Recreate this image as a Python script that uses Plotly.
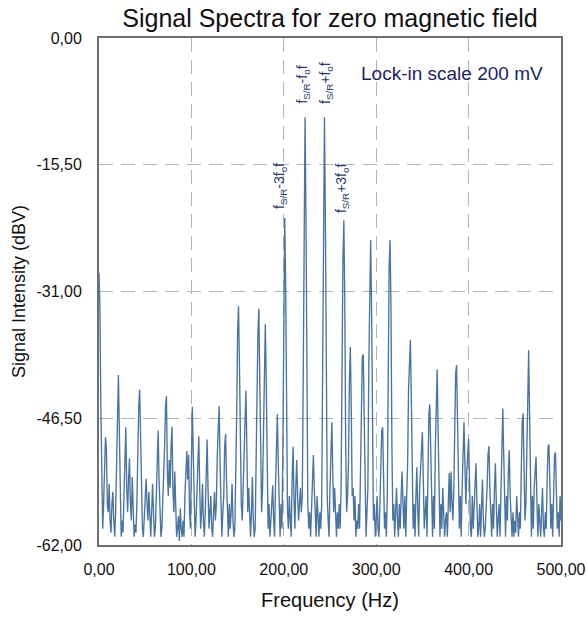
import plotly.graph_objects as go

# Frequency grid (Hz), 1 Hz steps
freq_hz = list(range(0, 501))

# Signal intensity (dBV) at each Hz
level_dbv = [
    -28.7, -33, -45, -57, -60, -57, -52, -48.8, -50, -57,          # 0-9
    -58, -54.5, -59, -60.5, -57, -55.5, -59, -61, -58, -52,        # 10-19
    -45, -41.2, -48, -58, -61, -59, -60.5, -56, -50, -47.6,        # 20-29
    -55, -58, -54, -51.4, -57, -59, -53.7, -58, -61, -59.5,        # 30-39
    -60.5, -57, -50, -45, -43.0, -50, -58, -60, -61, -58.5,        # 40-49
    -56, -53.9, -57, -59, -55.5, -59, -61, -58, -54.5, -58,        # 50-59
    -61, -60, -56, -50, -48, -54, -59, -61, -60, -57,              # 60-69
    -55, -50, -45, -43.8, -53, -56, -51.6, -55, -50, -47.5,        # 70-79
    -55, -58, -53, -59, -61, -60, -58.5, -61.5, -57.5, -60,        # 80-89
    -61, -59, -61, -56, -52, -50.5, -54, -51, -58, -60,            # 90-99
    -52, -45.1, -51, -58, -61, -59, -55, -50, -48.7, -55,          # 100-109
    -60, -58, -54.5, -59, -61, -58, -52, -49.1, -55, -60,          # 110-119
    -58, -56, -60, -61, -58, -55.5, -59, -57, -51, -46,            # 120-129
    -45, -52, -59, -61, -58, -56, -50, -48.4, -54, -59,            # 130-139
    -61, -57, -60, -58, -54.5, -59, -61, -60, -55, -46,            # 140-149
    -36, -32.8, -40, -50, -57, -59, -55, -49, -44, -43.1,          # 150-159
    -50, -58, -55, -60, -61, -58, -53.7, -59, -61, -60,            # 160-169
    -54, -44, -36, -33.1, -42, -54, -58, -55, -47, -38,            # 170-179
    -35, -42, -55, -60, -57, -61, -59, -56, -54.7, -59,            # 180-189
    -61, -55, -48, -46, -52, -59, -61, -57, -60, -50,              # 190-199
    -32, -22, -30, -48, -58, -60, -56, -59, -61, -54,              # 200-209
    -50, -56, -60, -55, -51.6, -56, -59, -57, -55, -58,            # 210-219
    -56, -42, -20, -9.7, -22, -45, -57, -60, -58, -61,             # 220-229
    -57, -53, -51, -55, -59, -61, -56, -59, -61, -58,              # 230-239
    -60, -57, -42, -20, -9.7, -22, -44, -56, -59, -61,             # 240-249
    -55, -49, -47, -53, -58, -55, -59, -61, -58, -60,              # 250-259
    -57, -60, -55, -40, -27, -22.3, -32, -50, -58, -56,            # 260-269
    -52, -42, -37.8, -45, -56, -55, -59, -56, -61, -59,            # 270-279
    -60, -57, -60, -53, -44, -39, -38.7, -47, -58, -61,            # 280-289
    -58, -55, -40, -28, -24.7, -33, -50, -59, -57, -61,            # 290-299
    -59, -56, -60, -61, -57, -52, -48, -47.6, -54, -60,            # 300-309
    -58, -61, -56, -40, -28, -24.7, -33, -50, -59, -57,            # 310-319
    -61, -58, -55, -59, -61, -57, -60, -56, -53, -57,              # 320-329
    -60, -56, -61, -56, -52, -43, -38, -36.9, -44, -55,            # 330-339
    -60, -57, -61, -56, -52.5, -58, -61, -55, -52, -49,            # 340-349
    -48.2, -54, -60, -58, -56, -61, -52, -46, -44.8, -51,          # 350-359
    -59, -61, -56, -60, -50, -42, -40.5, -48, -57, -61,            # 360-369
    -57, -60, -55, -58, -61, -59, -58, -61, -56, -53.2,            # 370-379
    -58, -53, -57, -59, -55, -46, -41, -40, -47, -56,              # 380-389
    -60, -56, -61, -55, -49, -47, -52, -57, -53, -50,              # 390-399
    -49, -54, -60, -61, -56, -60, -57, -53, -52, -57,              # 400-409
    -61, -60, -57, -61, -57, -54, -59, -61, -60, -58,              # 410-419
    -55, -51, -49.9, -55, -60, -61, -57, -60, -55, -52,            # 420-429
    -57, -61, -59, -57, -61, -54, -47, -45.3, -51, -59,            # 430-439
    -61, -56, -59, -53, -50.4, -56, -60, -61, -58, -61,            # 440-449
    -59, -60.5, -56, -60, -61, -58, -60, -53, -47, -45.9,          # 450-459
    -52, -59, -57, -49, -40, -38.2, -46, -57, -61, -56,            # 460-469
    -60, -55, -52, -51.2, -57, -61, -57, -60, -61, -58,            # 470-479
    -55, -60, -61, -58, -60, -54, -50, -49.7, -55, -60,            # 480-489
    -57, -61, -56, -51, -50.7, -56, -60, -58, -61, -56,            # 490-499
    -59,                                                           # 500
]

# Axis ticks
x_tick_vals = [0, 100, 200, 300, 400, 500]
x_tick_text = ["0,00", "100,00", "200,00", "300,00", "400,00", "500,00"]
y_tick_vals = [0, -15.5, -31, -46.5, -62]
y_tick_text = ["0,00", "-15,50", "-31,00", "-46,50", "-62,00"]

# Peak labels (frequency, level at bottom of label, text)
peak_label_x = [196.5, 220.5, 245.8, 262.4]
peak_label_y = [-21.2, -8.3, -8.3, -21.6]
peak_label_text = [
    "f<sub>S/R</sub>-3f<sub>o</sub>f",
    "f<sub>S/R</sub>-f<sub>o</sub>f",
    "f<sub>S/R</sub>+f<sub>o</sub>f",
    "f<sub>S/R</sub>+3f<sub>o</sub>f",
]

FONT = "Liberation Sans, Arial, sans-serif"
ML, MR, MT, MB = 99, 26, 38, 72
W, H = 587, 617
plot_w = W - ML - MR
plot_h = H - MT - MB

fig = go.Figure()
fig.add_trace(go.Scatter(
    x=freq_hz, y=level_dbv, mode="lines",
    line=dict(color="#4a74a1", width=1.35),
    showlegend=False, hoverinfo="skip",
))

annotations = []
for xv, yv, tx in zip(peak_label_x, peak_label_y, peak_label_text):
    annotations.append(dict(
        x=xv, y=yv, xref="x", yref="y", text=tx, textangle=-90,
        showarrow=False, xanchor="center", yanchor="bottom",
        font=dict(family=FONT, size=14, color="#2b3a6e"),
    ))
annotations.append(dict(
    x=((360 + 543) / 2 - ML) / plot_w, y=1 - (73 - MT) / plot_h,
    xref="paper", yref="paper", xanchor="center", yanchor="middle",
    text="Lock-in scale 200 mV", showarrow=False,
    font=dict(family=FONT, size=19, color="#20236b"),
))

fig.update_layout(
    width=W, height=H,
    margin=dict(l=ML, r=MR, t=MT, b=MB),
    paper_bgcolor="white", plot_bgcolor="white",
    title=dict(text="Signal Spectra for zero magnetic field",
               x=(330) / W, xanchor="center", y=1 - 18 / H, yanchor="middle",
               font=dict(family=FONT, size=25, color="#111111")),
    font=dict(family=FONT, color="#111111"),
    xaxis=dict(
        range=[0, 500], tickvals=x_tick_vals, ticktext=x_tick_text,
        tickfont=dict(size=16, color="#111111"), automargin=False,
        ticks="outside", ticklen=9, tickcolor="rgba(0,0,0,0)",
        showgrid=True, gridcolor="#b4b4b4", griddash="14px,8px", gridwidth=1,
        showline=True, linecolor="#707070", linewidth=2, mirror=True,
        zeroline=False,
        title=dict(text="Frequency (Hz)", font=dict(size=20, color="#111111"), standoff=16),
    ),
    yaxis=dict(
        range=[-62, 0], tickvals=y_tick_vals, ticktext=y_tick_text,
        tickfont=dict(size=16, color="#111111"), automargin=False,
        ticks="outside", ticklen=12, tickcolor="rgba(0,0,0,0)",
        showgrid=True, gridcolor="#b4b4b4", griddash="14px,8px", gridwidth=1,
        showline=True, linecolor="#707070", linewidth=2, mirror=True,
        zeroline=False,
        title=dict(text="Signal Intensity (dBV)", font=dict(size=18, color="#111111"), standoff=6),
    ),
    annotations=annotations,
)

fig.write_html("out.html")
